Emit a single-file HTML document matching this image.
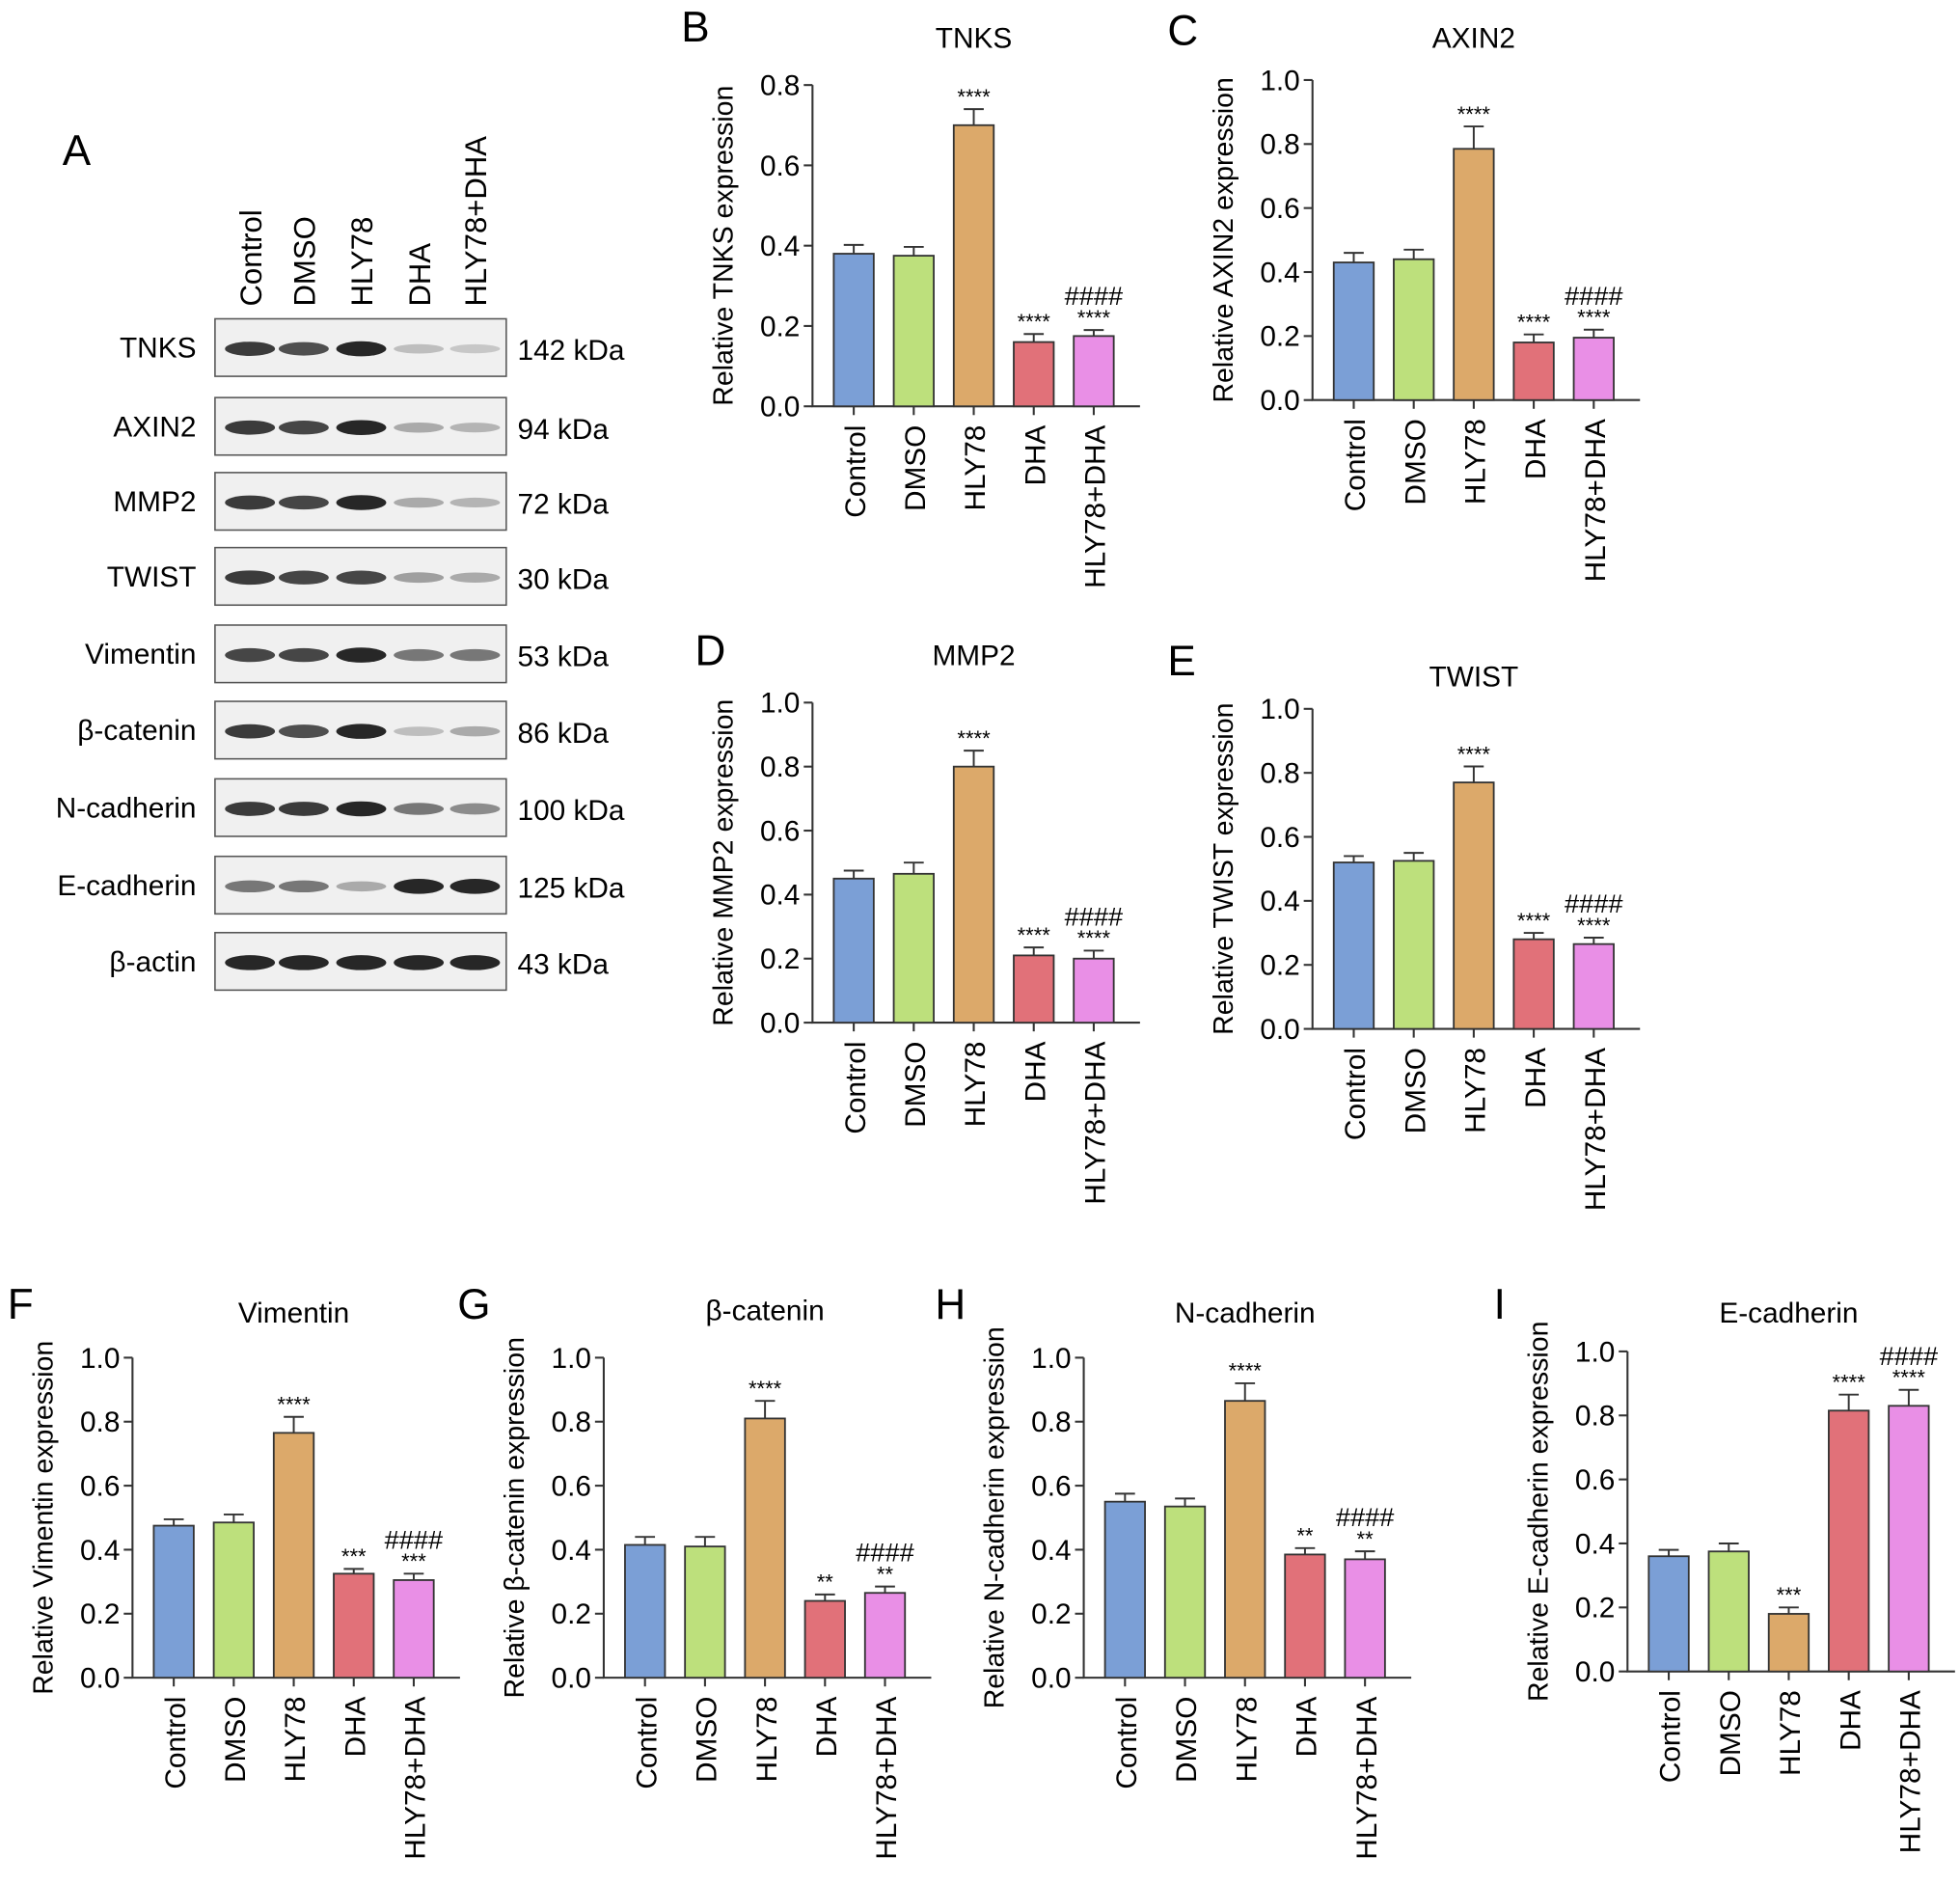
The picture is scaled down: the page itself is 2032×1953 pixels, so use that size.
<!DOCTYPE html>
<html><head><meta charset="utf-8">
<style>
html,body{margin:0;padding:0;background:#fff;}
svg{display:block;font-family:"Liberation Sans",Arial,sans-serif;}
</style></head>
<body>
<svg id="fig" width="2032" height="1953" viewBox="0 0 1568 1507" xmlns="http://www.w3.org/2000/svg">
<rect width="1568" height="1507" fill="#fff"/>
<g id="blot"></g>
<g id="charts"></g>
</svg>
<script>
const categories = ["Control","DMSO","HLY78","DHA","HLY78+DHA"];
const colors = ["#7b9fd6","#bde07c","#dca96a","#e17179","#e98fe6"];
const blotRows = ["TNKS","AXIN2","MMP2","TWIST","Vimentin","β-catenin","N-cadherin","E-cadherin","β-actin"];
const blotKda = ["142 kDa","94 kDa","72 kDa","30 kDa","53 kDa","86 kDa","100 kDa","125 kDa","43 kDa"];

const tnksVals = [0.38,0.375,0.70,0.16,0.175];
const tnksErr = [0.022,0.022,0.04,0.02,0.015];
const tnksSig = ["","","****","****","****"];
const axin2Vals = [0.43,0.44,0.785,0.18,0.195];
const axin2Err = [0.03,0.03,0.07,0.025,0.025];
const axin2Sig = ["","","****","****","****"];
const mmp2Vals = [0.45,0.465,0.80,0.21,0.20];
const mmp2Err = [0.025,0.035,0.05,0.025,0.025];
const mmp2Sig = ["","","****","****","****"];
const twistVals = [0.52,0.525,0.77,0.28,0.265];
const twistErr = [0.02,0.025,0.05,0.02,0.02];
const twistSig = ["","","****","****","****"];
const vimVals = [0.475,0.485,0.765,0.325,0.305];
const vimErr = [0.02,0.025,0.05,0.015,0.02];
const vimSig = ["","","****","***","***"];
const bcatVals = [0.415,0.41,0.81,0.24,0.265];
const bcatErr = [0.025,0.03,0.055,0.02,0.02];
const bcatSig = ["","","****","**","**"];
const ncadVals = [0.55,0.535,0.865,0.385,0.37];
const ncadErr = [0.025,0.025,0.055,0.02,0.025];
const ncadSig = ["","","****","**","**"];
const ecadVals = [0.36,0.375,0.18,0.815,0.83];
const ecadErr = [0.02,0.025,0.02,0.05,0.05];
const ecadSig = ["","","***","****","****"];
const yTicks08 = [0,0.2,0.4,0.6,0.8];
const yTicks10 = [0,0.2,0.4,0.6,0.8,1.0];

const NS="http://www.w3.org/2000/svg";
function mk(parent,tag,attrs,text){const e=document.createElementNS(NS,tag);for(const k in attrs)e.setAttribute(k,attrs[k]);if(text!==undefined)e.textContent=text;parent.appendChild(e);return e;}

// ---- Panel A (western blot) ----
const blot=document.getElementById('blot');
const a=mk(blot,'text',{x:50,y:132,'font-size':34},'A');


const laneX=[200,243,289,335,380];
categories.forEach((c,i)=>{
  const t=mk(blot,'text',{x:0,y:0,'font-size':24,transform:`translate(${laneX[i]+9},245) rotate(-90)`},c);
  
  
});
const rowTop=[255,318,378,438,500,561,623,685,746];
const bandStrength=[[.9,.8,1,.25,.2],[.9,.85,1,.35,.3],[.9,.85,1,.35,.3],[.9,.85,.85,.4,.35],[.85,.85,1,.6,.6],[.9,.8,1,.25,.35],[.9,.9,1,.6,.5],[.6,.6,.35,1,1],[1,1,1,1,1]];
blotRows.forEach((r,j)=>{
  const y=rowTop[j];
  const box=mk(blot,'rect',{x:172,y:y,width:233,height:46,fill:'#f0f0f0',stroke:'#555','stroke-width':1.2});
  
  
  bandStrength[j].forEach((s,i)=>{
    const b=mk(blot,'ellipse',{cx:laneX[i],cy:y+24,rx:20,ry:3+3*s,fill:'#111','fill-opacity':s*0.9});
    
    
  });
  const l=mk(blot,'text',{x:157,y:y+31,'font-size':23,'text-anchor':'end'},r);
  
  
  const k=mk(blot,'text',{x:414,y:y+33,'font-size':23},blotKda[j]);
  
  
});

// ---- Bar charts ----
const charts=document.getElementById('charts');
function chart(o){
  const g=mk(charts,'g',{});
  
  
  const ymax=o.ticks[o.ticks.length-1];
  const y=v=>o.y0-(v/ymax)*(o.y0-o.ytop);
  const x=i=>o.x0+33+i*48;
  const lab=mk(g,'text',{x:o.lx,y:o.ly,'font-size':34},o.letter);
  
  
  const t=mk(g,'text',{x:x(2),y:o.ty,'font-size':23,'text-anchor':'middle'},o.title);
  
  
  const yt=mk(g,'text',{x:0,y:0,'font-size':22,'text-anchor':'middle',transform:`translate(${o.x0-64},${(o.y0+o.ytop)/2}) rotate(-90)`},'Relative '+o.title+' expression');
  
  
  const ax=mk(g,'path',{d:`M${o.x0},${o.ytop}V${o.y0}H${o.x0+262}`,stroke:'#333','stroke-width':1.6,fill:'none'});
  
  
  o.ticks.forEach(v=>{
    mk(g,'line',{x1:o.x0-7,x2:o.x0,y1:y(v),y2:y(v),stroke:'#333','stroke-width':1.6});
    const tl=mk(g,'text',{x:o.x0-10,y:y(v)+8,'font-size':23,'text-anchor':'end'},v.toFixed(1));
    
    
  });
  categories.forEach((c,i)=>{
    const cx=x(i),v=o.vals[i],e=o.err[i];
    const bar=mk(g,'rect',{x:cx-16,y:y(v),width:32,height:o.y0-y(v),fill:colors[i],stroke:'#333','stroke-width':1.4});
    
    
    mk(g,'path',{d:`M${cx},${y(v)}V${y(v+e)}M${cx-8},${y(v+e)}H${cx+8}`,stroke:'#333','stroke-width':1.5,fill:'none'});
    mk(g,'line',{x1:cx,x2:cx,y1:o.y0,y2:o.y0+7,stroke:'#333','stroke-width':1.6});
    const cl=mk(g,'text',{x:0,y:0,'font-size':23,'text-anchor':'end',transform:`translate(${cx+9},${o.y0+15}) rotate(-90)`},c);
    
    
    if(o.sig[i]){
      const s=mk(g,'text',{x:cx,y:y(v+e)-4,'font-size':17,'text-anchor':'middle'},o.sig[i]);
      
      
    }
    if(i===4){
      const h=mk(g,'text',{x:cx,y:y(v+e)-20,'font-size':21,'text-anchor':'middle'},'####');
      
      
    }
  });
}
chart({key:'tnks',letter:'B',lx:545,ly:33,title:'TNKS',ty:38,x0:650,y0:325,ytop:68,ticks:yTicks08,vals:tnksVals,err:tnksErr,sig:tnksSig});
chart({key:'axin2',letter:'C',lx:934,ly:36,title:'AXIN2',ty:38,x0:1050,y0:320,ytop:64,ticks:yTicks10,vals:axin2Vals,err:axin2Err,sig:axin2Sig});
chart({key:'mmp2',letter:'D',lx:556,ly:532,title:'MMP2',ty:532,x0:650,y0:818,ytop:562,ticks:yTicks10,vals:mmp2Vals,err:mmp2Err,sig:mmp2Sig});
chart({key:'twist',letter:'E',lx:934,ly:540,title:'TWIST',ty:549,x0:1050,y0:823,ytop:567,ticks:yTicks10,vals:twistVals,err:twistErr,sig:twistSig});
chart({key:'vimentin',letter:'F',lx:6,ly:1055,title:'Vimentin',ty:1058,x0:106,y0:1342,ytop:1086,ticks:yTicks10,vals:vimVals,err:vimErr,sig:vimSig});
chart({key:'bcatenin',letter:'G',lx:366,ly:1055,title:'β-catenin',ty:1056,x0:483,y0:1342,ytop:1086,ticks:yTicks10,vals:bcatVals,err:bcatErr,sig:bcatSig});
chart({key:'ncadherin',letter:'H',lx:748,ly:1055,title:'N-cadherin',ty:1058,x0:867,y0:1342,ytop:1086,ticks:yTicks10,vals:ncadVals,err:ncadErr,sig:ncadSig});
chart({key:'ecadherin',letter:'I',lx:1195,ly:1055,title:'E-cadherin',ty:1058,x0:1302,y0:1337,ytop:1081,ticks:yTicks10,vals:ecadVals,err:ecadErr,sig:ecadSig});
</script>
</body></html>
